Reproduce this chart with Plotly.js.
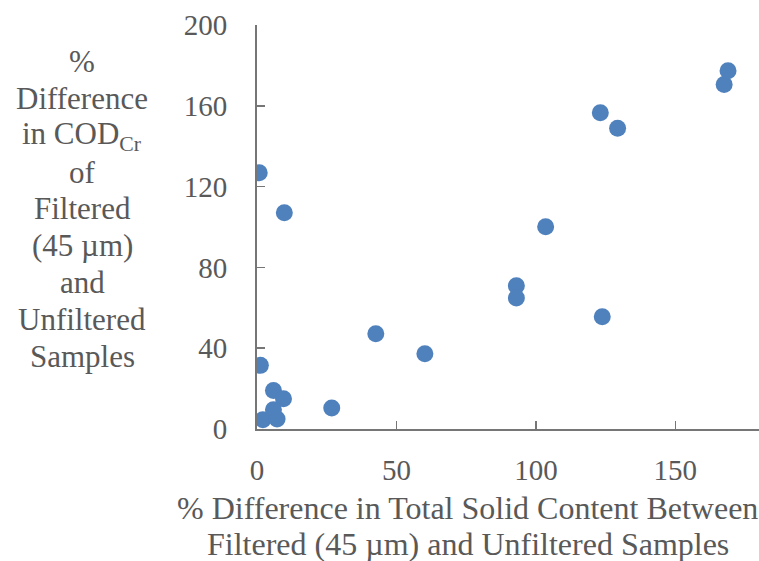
<!DOCTYPE html>
<html>
<head>
<meta charset="utf-8">
<script src="https://cdn.plot.ly/plotly-3.0.1.min.js"></script>
<style>html,body{margin:0;padding:0;background:#fff;}#chart{width:759px;height:561px;}</style>
</head>
<body>
<div id="chart"></div>
<script>
// % difference in total solid content (x) vs % difference in COD_Cr (y)
const solidDiff = [0.8, 9.8, 1.2, 5.9, 9.5, 5.9, 2.1, 7.2, 26.8, 42.6, 60.2, 93.0, 93.0, 103.5, 123.1, 129.3, 123.8, 167.5, 168.9];
const codDiff   = [126.9, 107.1, 31.5, 19.1, 15.0, 9.5, 4.6, 4.9, 10.4, 47.1, 37.2, 70.9, 64.8, 100.1, 156.6, 148.9, 55.6, 170.5, 177.4];
const xTicks = [0, 50, 100, 150];
const yTicks = [0, 40, 80, 120, 160, 200];
const xTitleLines = ["% Difference in Total Solid Content Between", "Filtered (45 µm) and Unfiltered Samples"];
const yTitleLines = ["%", "Difference", "in COD<sub>Cr</sub>", "of", "Filtered", "(45 µm)", "and", "Unfiltered", "Samples"];

const W = 759, H = 561;
const M = {l: 257, r: 0, t: 25, b: 132};
const pw = W - M.l - M.r, ph = H - M.t - M.b;
const px = x => (x - M.l) / pw;
const py = y => (H - M.b - y) / ph;

const textColor = '#595959';
const axisColor = '#767676';
const font = "'Liberation Serif', 'Times New Roman', serif";

const trace = {
  type: 'scatter', mode: 'markers',
  x: solidDiff, y: codDiff,
  marker: {color: '#4F81BD', size: 17},
  hoverinfo: 'x+y'
};

const annotations = [];
xTitleLines.forEach((t, i) => annotations.push({
  text: t, xref: 'paper', yref: 'paper', x: px(467.5), y: py(508 + i * 36),
  xanchor: 'center', yanchor: 'middle', showarrow: false,
  font: {family: font, size: 32, color: textColor}
}));
yTitleLines.forEach((t, i) => annotations.push({
  text: t, xref: 'paper', yref: 'paper', x: px(82), y: py(62 + i * 36.75),
  xanchor: 'center', yanchor: 'middle', showarrow: false,
  font: {family: font, size: 31, color: textColor}
}));

const layout = {
  width: W, height: H,
  margin: M,
  paper_bgcolor: '#fff', plot_bgcolor: '#fff',
  showlegend: false,
  font: {family: font, color: textColor, size: 29},
  xaxis: {
    range: [0, 180], tickvals: xTicks, ticktext: xTicks.map(String),
    showgrid: false, zeroline: false, showline: true, linecolor: axisColor, linewidth: 2,
    ticks: 'inside', ticklen: 8, tickwidth: 1.5, tickcolor: axisColor,
    tickfont: {family: font, size: 29, color: textColor},
    ticklabelstandoff: 14
  },
  yaxis: {
    range: [0, 200], tickvals: yTicks, ticktext: yTicks.map(String),
    showgrid: false, zeroline: false, showline: true, linecolor: axisColor, linewidth: 2,
    ticks: 'inside', ticklen: 8, tickwidth: 1.5, tickcolor: axisColor,
    tickfont: {family: font, size: 29, color: textColor},
    ticklabelstandoff: 22
  },
  annotations: annotations
};

Plotly.newPlot('chart', [trace], layout, {displayModeBar: false, staticPlot: true});
</script>
</body>
</html>
